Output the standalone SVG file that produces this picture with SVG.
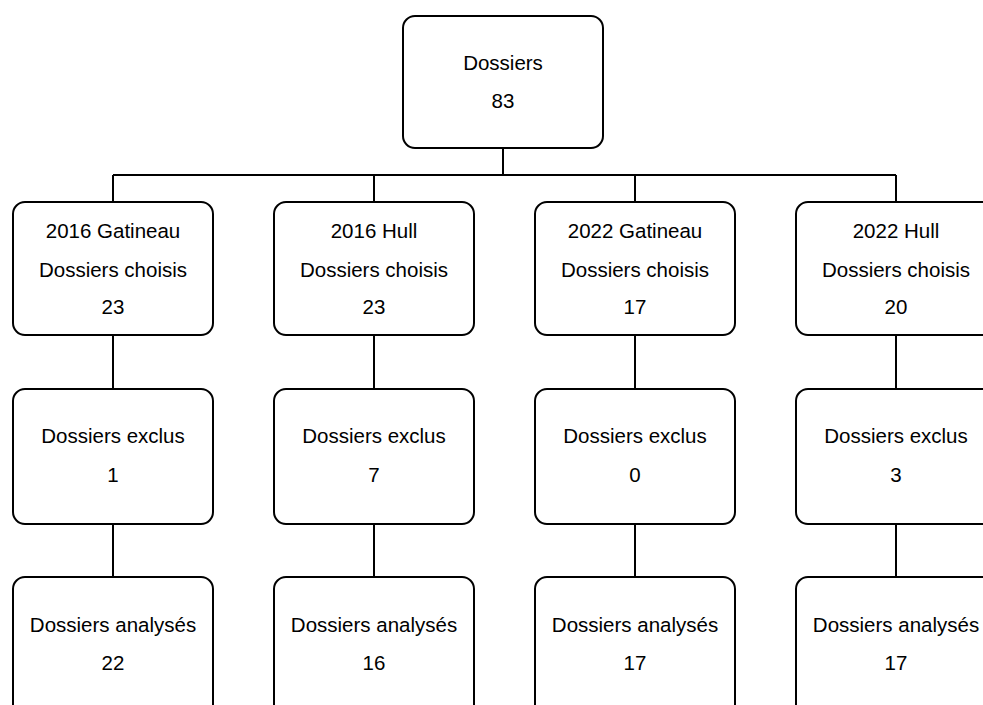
<svg xmlns="http://www.w3.org/2000/svg" width="983" height="705" viewBox="0 0 983 705">
<style>
.box{fill:#fff;stroke:#000;stroke-width:2}
.ln{stroke:#000;stroke-width:2;fill:none}
text{font-family:"Liberation Sans",Arial,sans-serif;font-size:20.5px;fill:#000;text-anchor:middle}
</style>
<rect width="983" height="705" fill="#fff"/>
<g id="connectors">
<path class="ln" d="M503 148V175M113 175H896M113 175V202M374 175V202M635 175V202M896 175V202"/>
<path class="ln" d="M113 335V389M374 335V389M635 335V389M896 335V389"/>
<path class="ln" d="M113 524V577M374 524V577M635 524V577M896 524V577"/>
</g>
<g id="root"><rect class="box" x="403" y="16" width="200" height="132" rx="12"/><text x="503" y="70">Dossiers</text><text x="503" y="108">83</text></g>
<g id="c1"><rect class="box" x="13" y="202" width="200" height="133" rx="12"/><text x="113" y="238">2016 Gatineau</text><text x="113" y="277">Dossiers choisis</text><text x="113" y="314">23</text></g>
<g id="c2"><rect class="box" x="274" y="202" width="200" height="133" rx="12"/><text x="374" y="238">2016 Hull</text><text x="374" y="277">Dossiers choisis</text><text x="374" y="314">23</text></g>
<g id="c3"><rect class="box" x="535" y="202" width="200" height="133" rx="12"/><text x="635" y="238">2022 Gatineau</text><text x="635" y="277">Dossiers choisis</text><text x="635" y="314">17</text></g>
<g id="c4"><rect class="box" x="796" y="202" width="200" height="133" rx="12"/><text x="896" y="238">2022 Hull</text><text x="896" y="277">Dossiers choisis</text><text x="896" y="314">20</text></g>
<g id="e1"><rect class="box" x="13" y="389" width="200" height="135" rx="12"/><text x="113" y="443">Dossiers exclus</text><text x="113" y="482">1</text></g>
<g id="e2"><rect class="box" x="274" y="389" width="200" height="135" rx="12"/><text x="374" y="443">Dossiers exclus</text><text x="374" y="482">7</text></g>
<g id="e3"><rect class="box" x="535" y="389" width="200" height="135" rx="12"/><text x="635" y="443">Dossiers exclus</text><text x="635" y="482">0</text></g>
<g id="e4"><rect class="box" x="796" y="389" width="200" height="135" rx="12"/><text x="896" y="443">Dossiers exclus</text><text x="896" y="482">3</text></g>
<g id="a1"><rect class="box" x="13" y="577" width="200" height="140" rx="12"/><text x="113" y="632">Dossiers analysés</text><text x="113" y="670">22</text></g>
<g id="a2"><rect class="box" x="274" y="577" width="200" height="140" rx="12"/><text x="374" y="632">Dossiers analysés</text><text x="374" y="670">16</text></g>
<g id="a3"><rect class="box" x="535" y="577" width="200" height="140" rx="12"/><text x="635" y="632">Dossiers analysés</text><text x="635" y="670">17</text></g>
<g id="a4"><rect class="box" x="796" y="577" width="200" height="140" rx="12"/><text x="896" y="632">Dossiers analysés</text><text x="896" y="670">17</text></g>
</svg>
